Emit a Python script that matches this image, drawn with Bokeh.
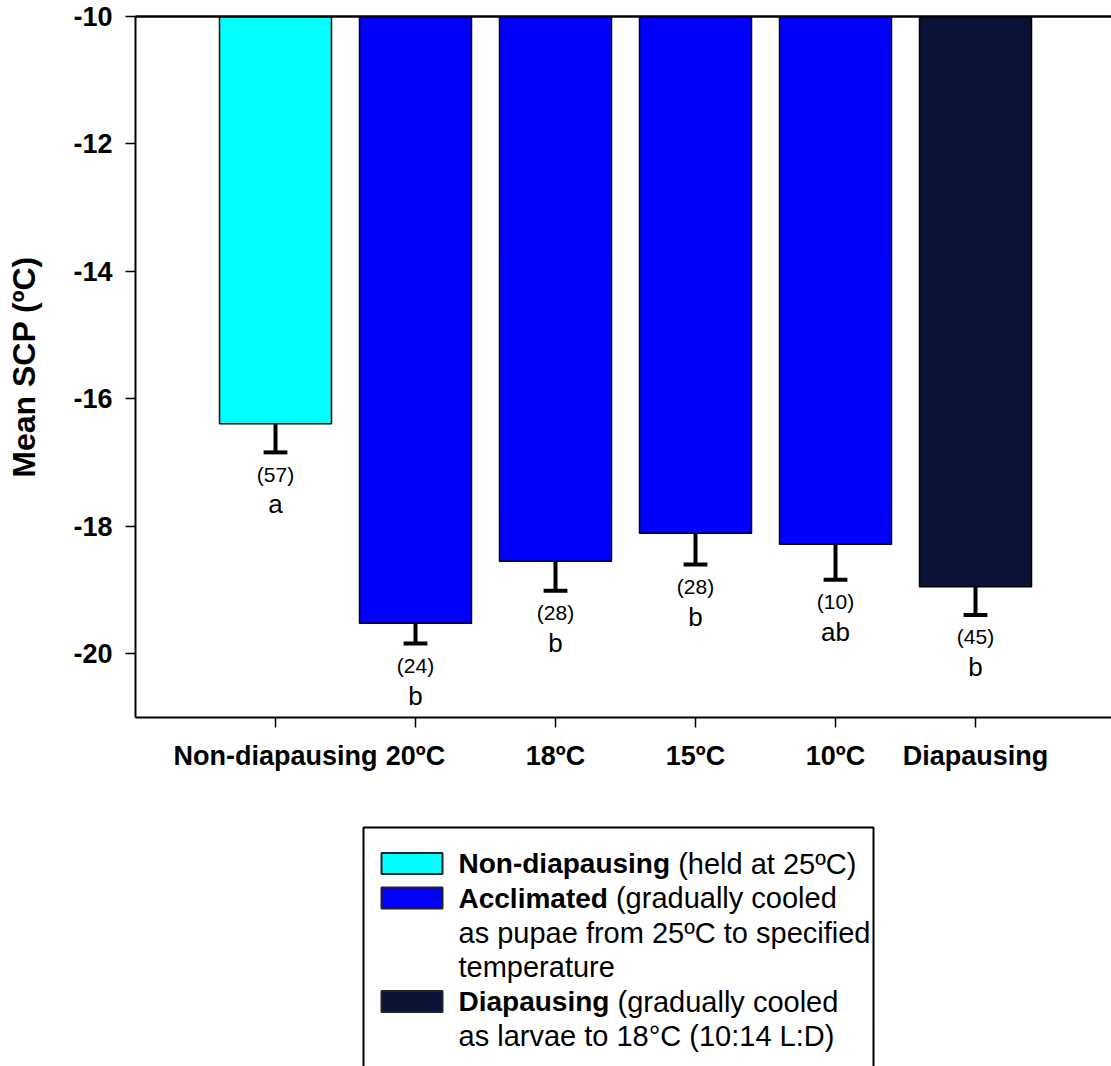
import numpy as np
from bokeh.plotting import figure
from bokeh.models import Range1d, FixedTicker, LinearAxis
from bokeh.layouts import column
from bokeh.embed import file_html
from bokeh.resources import INLINE
from bokeh.core.properties import value

# ---- data -------------------------------------------------------------
groups = ["Non-diapausing", "20ºC", "18ºC", "15ºC", "10ºC", "Diapausing"]
mean_scp = [-16.39, -19.52, -18.55, -18.11, -18.28, -18.95]
sem = [0.45, 0.32, 0.46, 0.49, 0.56, 0.44]
sample_n = [57, 24, 28, 28, 10, 45]
letters = ["a", "b", "b", "b", "ab", "b"]
bar_colors = ["#00FFFF", "#0000FF", "#0000FF", "#0000FF", "#0000FF", "#0A1235"]
y_ticks = [-10, -12, -14, -16, -18, -20]

legend_colors = ["#00FFFF", "#0000FF", "#0A1235"]
legend_bold = ["Non-diapausing", "Acclimated", "Diapausing"]
legend_rest = ["(held at 25ºC)", "(gradually cooled", "(gradually cooled"]
legend_more = [[], ["as pupae from 25ºC to specified", "temperature"],
               ["as larvae to 18°C (10:14 L:D)"]]

FONT = "Liberation Sans"

# Arial/Liberation Sans Bold advance widths (em) for the bold legend words
BOLD_W = {"N": .722, "o": .611, "n": .611, "-": .333, "d": .611, "i": .278,
          "a": .556, "p": .611, "u": .611, "s": .556, "g": .611, "A": .722,
          "c": .556, "l": .278, "m": .889, "t": .333, "e": .556, "D": .722}


def bold_width(s, size):
    return sum(BOLD_W[ch] for ch in s) * size


# ---- main bar chart ---------------------------------------------------
xs = np.arange(1, len(groups) + 1)
means = np.array(mean_scp)
low = means - np.array(sem)

FRAME_L, FRAME_R = 135, 1111

p = figure(width=1111, height=800, x_range=Range1d(0, (FRAME_R - FRAME_L) / 140),
           y_range=Range1d(-21, -10), output_backend="svg",
           toolbar_location=None, min_border_left=FRAME_L, min_border_right=0,
           min_border_top=16, min_border_bottom=83)
p.outline_line_color = None
p.xgrid.visible = False
p.ygrid.visible = False

p.vbar(x=xs, width=0.8, top=-10, bottom=means, fill_color=bar_colors,
       line_color="black", line_width=1.5)

# downward standard-error whiskers
p.segment(x0=xs, y0=means, x1=xs, y1=low, line_color="black", line_width=4)
p.segment(x0=xs - 0.085, y0=low, x1=xs + 0.085, y1=low,
          line_color="black", line_width=4)

p.text(x=xs, y=low, text=[f"({n})" for n in sample_n], y_offset=22,
       text_align="center", text_baseline="middle",
       text_font=value(FONT), text_font_size=value("21px"), text_color="black")
p.text(x=xs, y=low, text=letters, y_offset=52,
       text_align="center", text_baseline="middle",
       text_font=value(FONT), text_font_size=value("26px"), text_color="black")

yax = p.left[0]
xax = p.below[0]

yax.ticker = FixedTicker(ticks=y_ticks)
yax.major_label_overrides = {t: str(t) for t in y_ticks}
yax.minor_tick_line_color = None
yax.axis_label = "Mean SCP (ºC)"
yax.axis_label_text_font = FONT
yax.axis_label_text_font_style = "bold"
yax.axis_label_text_font_size = "32px"
yax.axis_label_text_color = "black"
yax.axis_label_standoff = 28

xax.ticker = FixedTicker(ticks=list(xs))
xax.minor_tick_line_color = None
xax.major_label_overrides = {int(x): g for x, g in zip(xs, groups)}

for ax in (xax, yax):
    ax.axis_line_width = 2
    ax.axis_line_color = "black"
    ax.major_tick_line_color = "black"
    ax.major_tick_line_width = 1.5
    ax.major_tick_in = 0
    ax.major_tick_out = 10
    ax.major_label_text_font = FONT
    ax.major_label_text_font_style = "bold"
    ax.major_label_text_font_size = "27px"
    ax.major_label_text_color = "black"
yax.major_label_standoff = 13
xax.major_label_standoff = 13

# plain line along the top of the frame
top_axis = LinearAxis(ticker=FixedTicker(ticks=[]), axis_line_width=2.5,
                      axis_line_color="black", major_label_text_font_size="0px",
                      major_tick_line_color=None, minor_tick_line_color=None,
                      major_label_standoff=0)
p.add_layout(top_axis, "above")

# ---- legend panel (x in page pixels, y in pixels from panel top) -------
leg = figure(width=1111, height=266, x_range=Range1d(FRAME_L, FRAME_R),
             y_range=Range1d(266, 0), output_backend="svg",
             toolbar_location=None, min_border_left=FRAME_L,
             min_border_right=0, min_border_top=0, min_border_bottom=0)
leg.axis.visible = False
leg.grid.visible = False
leg.outline_line_color = None

leg.quad(left=[363], right=[873], top=[27], bottom=[300], fill_color=None,
         line_color="black", line_width=2)

BOLD_SIZE, TEXT_SIZE = 28, 29
text_x = 458
sw_left, sw_right, sw_h = 381, 442, 21
line_y = 63
line_step = 34.5
for i, (bold, rest) in enumerate(zip(legend_bold, legend_rest)):
    leg.quad(left=[sw_left], right=[sw_right], top=[line_y - sw_h / 2],
             bottom=[line_y + sw_h / 2], fill_color=legend_colors[i],
             line_color="#222222", line_width=2)
    leg.text(x=[text_x], y=[line_y], text=[bold], text_baseline="middle",
             text_font=value(FONT), text_font_style="bold",
             text_font_size=value(f"{BOLD_SIZE}px"), text_color="black")
    rest_x = text_x + bold_width(bold, BOLD_SIZE) + 0.278 * TEXT_SIZE
    leg.text(x=[rest_x], y=[line_y], text=[rest],
             text_baseline="middle", text_font=value(FONT),
             text_font_size=value(f"{TEXT_SIZE}px"), text_color="black")
    line_y += line_step
    for extra in legend_more[i]:
        leg.text(x=[text_x], y=[line_y], text=[extra], text_baseline="middle",
                 text_font=value(FONT), text_font_size=value(f"{TEXT_SIZE}px"),
                 text_color="black")
        line_y += line_step

layout = column(p, leg)
open("out.html", "w").write(file_html(layout, INLINE))
